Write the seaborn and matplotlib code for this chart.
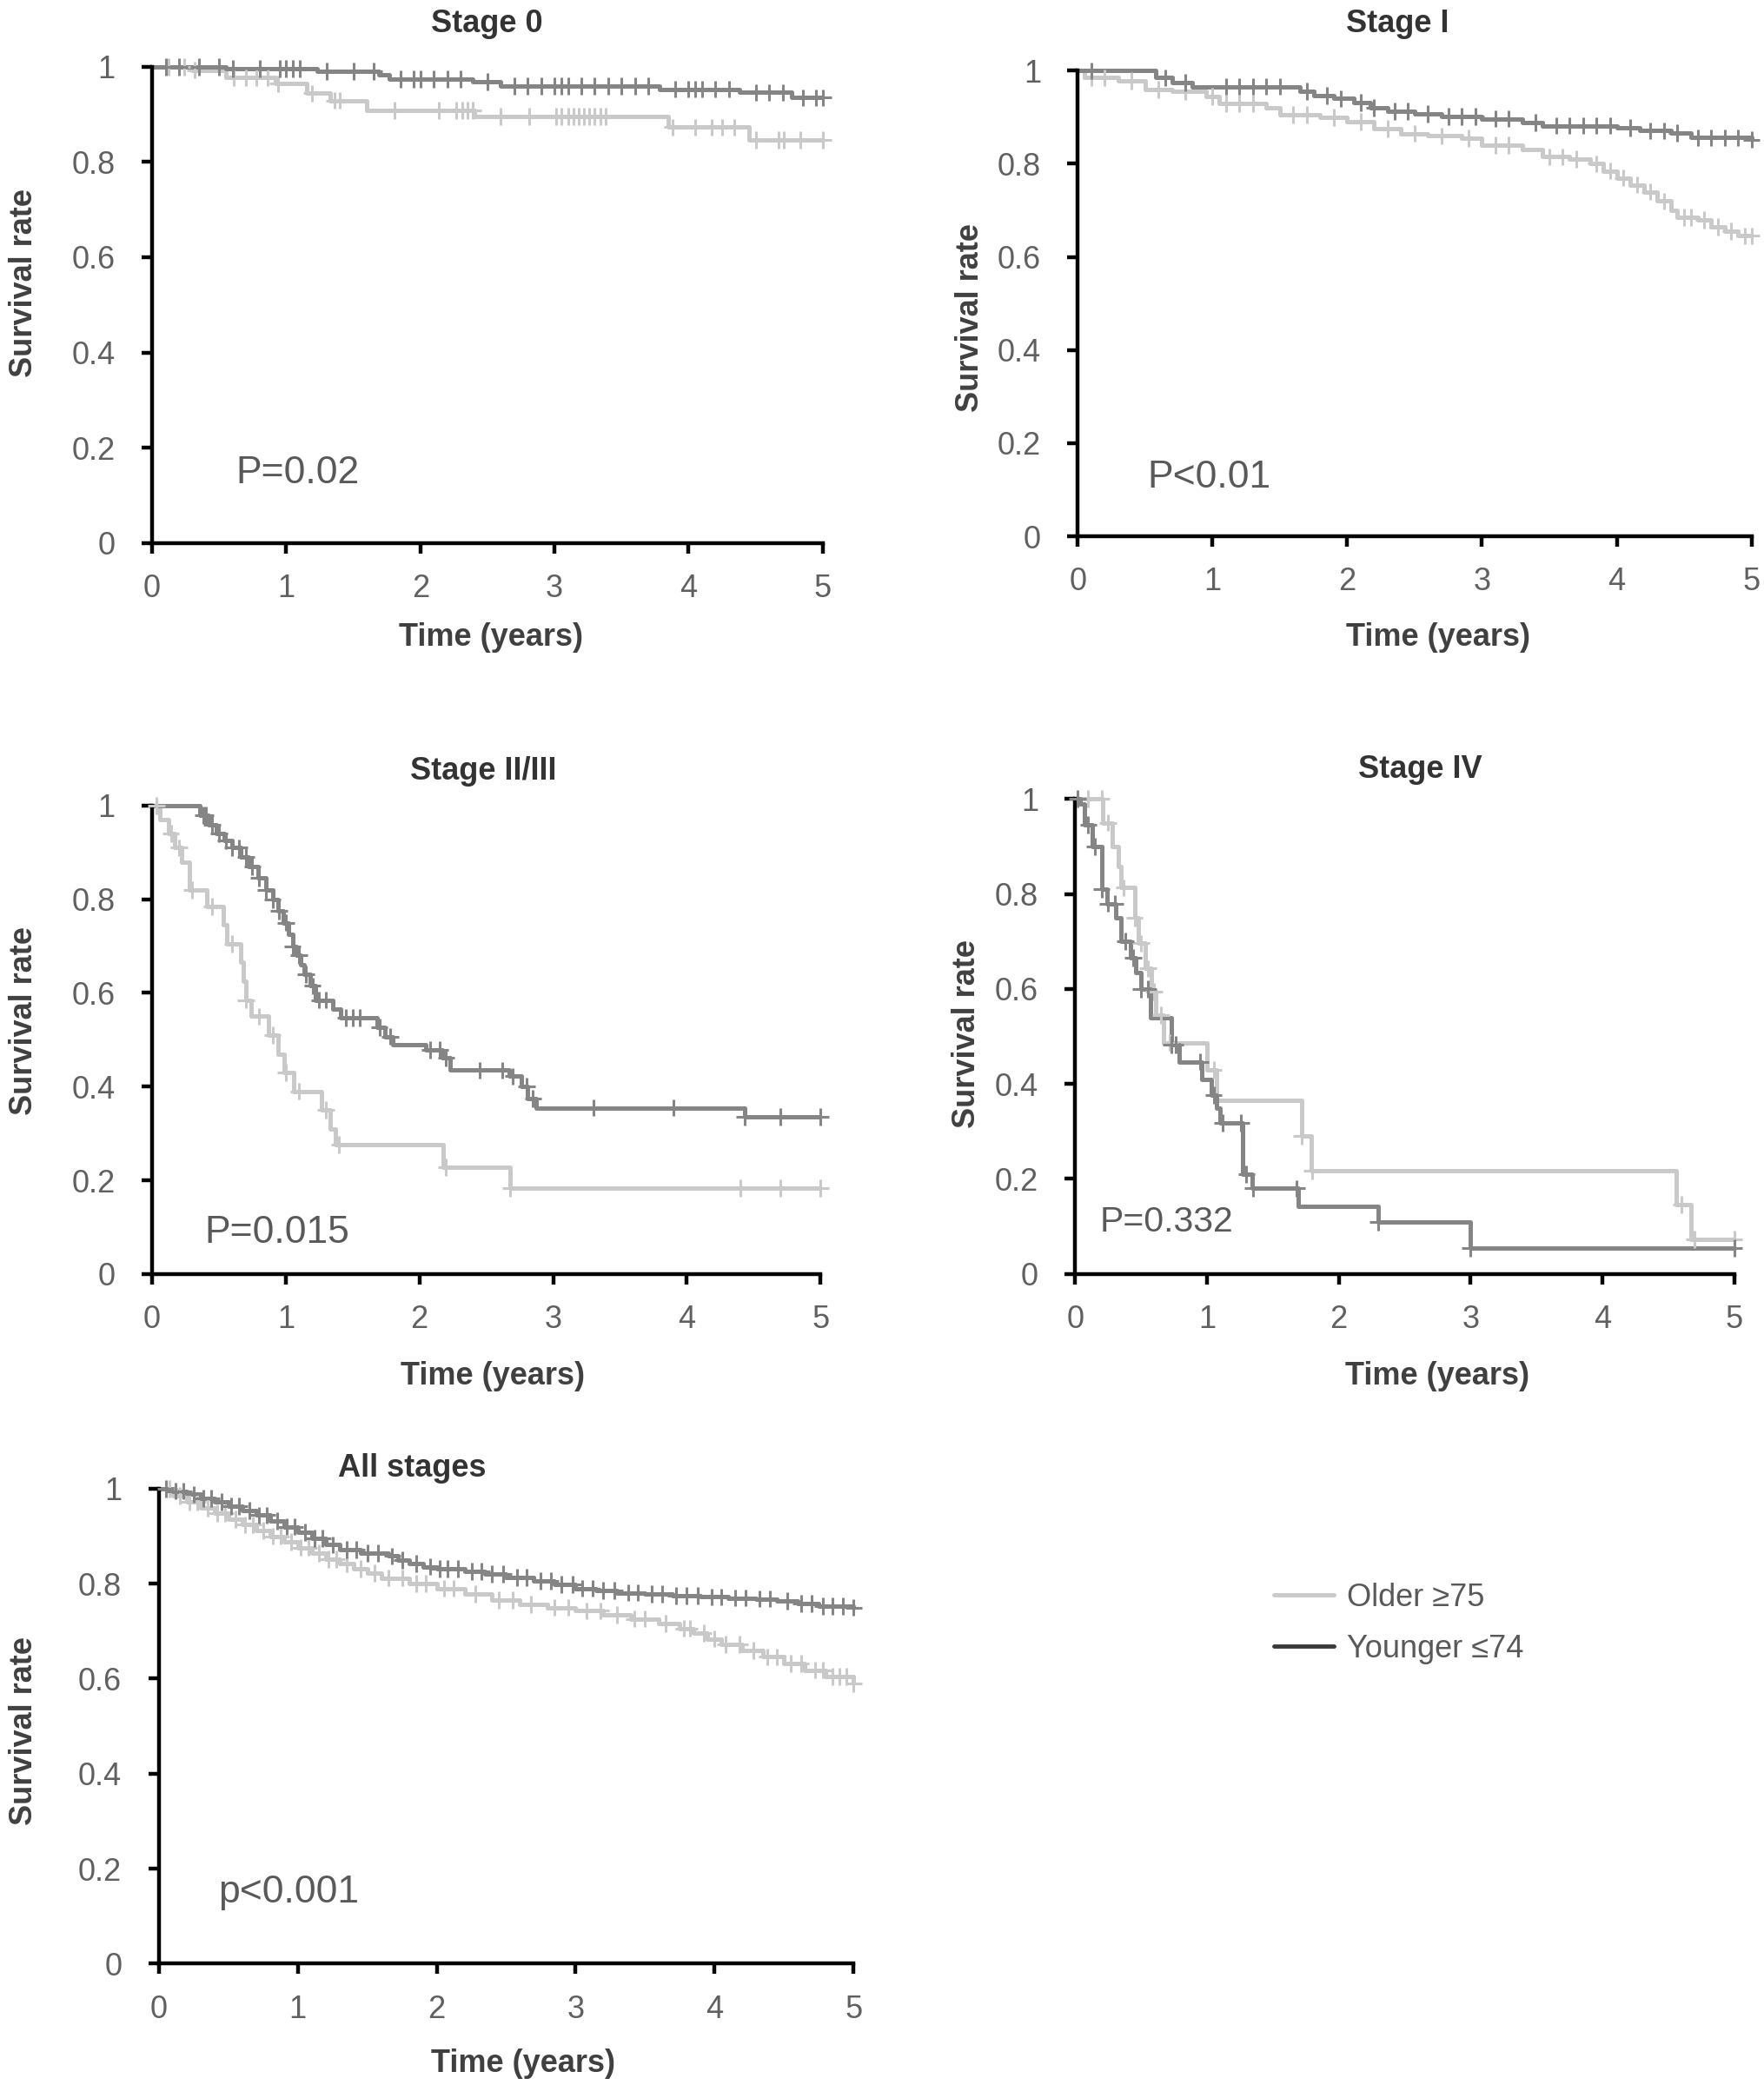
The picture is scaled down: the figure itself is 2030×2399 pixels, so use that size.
import numpy as np
import pandas as pd
import seaborn as sns
import matplotlib.pyplot as plt
from matplotlib.lines import Line2D

# Kaplan-Meier curves: step times (years) and survival
# Stage 0
s0_old_t = [0, 0.3, 0.55, 0.92, 1.15, 1.33, 1.6, 2.4, 3.85, 4.45, 5.0]
s0_old_s = [1.0, 0.993, 0.977, 0.964, 0.944, 0.929, 0.908, 0.895, 0.873, 0.846, 0.846]
s0_old_c = [0.12, 0.24, 0.32, 0.61, 0.70, 0.78, 0.86, 0.94, 1.19, 1.36, 1.40, 1.81, 2.14, 2.27, 2.31,
            2.35, 2.39, 2.6, 2.81, 3.01, 3.05, 3.10, 3.14, 3.18, 3.22, 3.26, 3.30, 3.34, 3.38, 3.88,
            4.05, 4.17, 4.25, 4.34, 4.50, 4.67, 4.71, 4.83, 5.0]
s0_young_t = [0, 0.55, 1.23, 1.69, 1.77, 2.39, 2.6, 3.78, 4.38, 4.77, 5.0]
s0_young_s = [1.0, 0.996, 0.991, 0.983, 0.974, 0.969, 0.96, 0.953, 0.946, 0.935, 0.935]
s0_young_c = [0.1, 0.2, 0.35, 0.5, 0.6, 0.8, 0.95, 1.0, 1.05, 1.1, 1.3, 1.5, 1.65, 1.85, 1.95, 2.0,
              2.1, 2.2, 2.3, 2.5, 2.7, 2.8, 2.9, 3.0, 3.05, 3.1, 3.2, 3.3, 3.4, 3.5, 3.6, 3.7, 3.9,
              4.0, 4.05, 4.1, 4.2, 4.3, 4.5, 4.6, 4.7, 4.85, 4.95, 5.0]

# Stage I
s1_old_t = [0, 0.05, 0.3, 0.5, 0.7, 0.95, 1.05, 1.4, 1.5, 1.8, 2.0, 2.2, 2.4, 2.6, 2.85, 3.0,
            3.3, 3.45, 3.65, 3.8, 3.9, 4.0, 4.1, 4.2, 4.3, 4.4, 4.45, 4.6, 4.7, 4.8, 4.9, 5.0]
s1_old_s = [1.0, 0.985, 0.978, 0.96, 0.955, 0.945, 0.93, 0.92, 0.905, 0.9, 0.89, 0.875, 0.865,
            0.86, 0.855, 0.84, 0.83, 0.815, 0.81, 0.8, 0.785, 0.77, 0.755, 0.74, 0.72, 0.7, 0.685,
            0.68, 0.665, 0.655, 0.645, 0.645]
s1_old_c = [0.1, 0.2, 0.4, 0.6, 0.8, 1.0, 1.1, 1.2, 1.3, 1.6, 1.7, 1.9, 2.1, 2.3, 2.5, 2.7, 2.9,
            3.1, 3.2, 3.5, 3.6, 3.7, 3.85, 3.95, 4.05, 4.15, 4.25, 4.35, 4.5, 4.55, 4.65, 4.75,
            4.85, 4.95, 5.0]
s1_young_t = [0, 0.58, 0.7, 0.85, 1.65, 1.75, 1.9, 2.05, 2.17, 2.3, 2.5, 2.7, 3.0, 3.3, 3.45,
              4.0, 4.17, 4.4, 4.55, 5.0]
s1_young_s = [1.0, 0.985, 0.975, 0.966, 0.956, 0.947, 0.94, 0.932, 0.92, 0.913, 0.907, 0.902,
              0.897, 0.889, 0.882, 0.877, 0.871, 0.866, 0.856, 0.852]
s1_young_c = [0.1, 0.65, 0.8, 1.1, 1.2, 1.3, 1.4, 1.5, 1.7, 1.85, 1.95, 2.1, 2.2, 2.35, 2.45, 2.6,
              2.75, 2.85, 2.95, 3.1, 3.2, 3.4, 3.55, 3.65, 3.75, 3.85, 3.95, 4.1, 4.25, 4.35, 4.45,
              4.6, 4.7, 4.8, 4.9, 5.0]

# Stage II/III
s23_old_t = [0, 0.06, 0.12, 0.17, 0.22, 0.28, 0.41, 0.53, 0.56, 0.66, 0.68, 0.7, 0.74, 0.87,
             0.94, 0.99, 1.06, 1.27, 1.33, 1.37, 2.18, 2.68, 5.0]
s23_old_s = [1.0, 0.97, 0.94, 0.91, 0.88, 0.82, 0.785, 0.745, 0.705, 0.665, 0.625, 0.585, 0.55,
             0.51, 0.47, 0.43, 0.39, 0.35, 0.31, 0.276, 0.228, 0.183, 0.183]
s23_old_c = [0.03, 0.14, 0.2, 0.3, 0.45, 0.6, 0.7, 0.8, 0.9, 1.0, 1.1, 1.3, 1.4, 2.2, 2.68, 4.4,
             4.7, 5.0]
s23_young_t = [0, 0.36, 0.42, 0.48, 0.54, 0.6, 0.66, 0.72, 0.79, 0.85, 0.9, 0.94, 0.98, 1.02,
               1.05, 1.08, 1.11, 1.14, 1.18, 1.22, 1.35, 1.41, 1.68, 1.74, 1.8, 2.05, 2.17, 2.23,
               2.67, 2.76, 2.81, 2.87, 4.43, 5.0]
s23_young_s = [1.0, 0.98, 0.96, 0.94, 0.925, 0.91, 0.89, 0.87, 0.845, 0.82, 0.8, 0.775, 0.75,
               0.725, 0.7, 0.68, 0.66, 0.64, 0.615, 0.585, 0.566, 0.547, 0.527, 0.507, 0.49,
               0.478, 0.462, 0.435, 0.422, 0.4, 0.375, 0.355, 0.336, 0.336]
s23_young_c = [0.38, 0.4, 0.45, 0.5, 0.55, 0.6, 0.65, 0.7, 0.75, 0.8, 0.85, 0.9, 0.95, 1.0, 1.05,
               1.1, 1.15, 1.2, 1.25, 1.3, 1.45, 1.5, 1.55, 1.7, 1.78, 2.08, 2.15, 2.2, 2.45, 2.62,
               2.7, 2.8, 2.85, 3.3, 3.9, 4.43, 4.7, 5.0]

# Stage IV
s4_old_t = [0, 0.21, 0.28, 0.33, 0.35, 0.45, 0.48, 0.53, 0.58, 0.61, 0.67, 1.0, 1.07, 1.72,
            1.79, 4.56, 4.67, 5.0]
s4_old_s = [1.0, 0.95, 0.9, 0.857, 0.813, 0.75, 0.696, 0.643, 0.594, 0.545, 0.487, 0.43, 0.365,
            0.291, 0.217, 0.146, 0.073, 0.073]
s4_old_c = [0.1, 0.2, 0.25, 0.37, 0.45, 0.5, 0.55, 0.6, 0.65, 0.72, 1.05, 1.72, 1.8, 4.6, 4.7,
            5.0]
s4_young_t = [0, 0.04, 0.07, 0.13, 0.2, 0.24, 0.31, 0.35, 0.42, 0.46, 0.5, 0.57, 0.73, 0.79,
              0.96, 1.03, 1.07, 1.1, 1.27, 1.34, 1.69, 2.3, 3.0, 5.0]
s4_young_s = [1.0, 0.99, 0.946, 0.9, 0.81, 0.78, 0.75, 0.7, 0.666, 0.635, 0.6, 0.54, 0.483,
              0.447, 0.41, 0.376, 0.35, 0.318, 0.21, 0.18, 0.142, 0.109, 0.055, 0.055]
s4_young_c = [0.02, 0.1, 0.15, 0.2, 0.25, 0.3, 0.38, 0.44, 0.5, 0.55, 0.73, 0.76, 0.95, 1.05,
              1.12, 1.26, 1.3, 1.35, 1.68, 2.3, 3.0, 5.0]

# All stages
sa_old_t = [0, 0.1, 0.2, 0.3, 0.4, 0.5, 0.6, 0.7, 0.8, 0.9, 1.0, 1.1, 1.2, 1.3, 1.4, 1.5, 1.6,
            1.8, 2.0, 2.2, 2.4, 2.6, 2.8, 3.0, 3.2, 3.4, 3.6, 3.75, 3.85, 3.95, 4.05, 4.2, 4.35,
            4.5, 4.65, 4.8, 5.0]
sa_old_s = [1.0, 0.985, 0.972, 0.96, 0.948, 0.936, 0.924, 0.912, 0.9, 0.888, 0.876, 0.864, 0.852,
            0.842, 0.832, 0.822, 0.812, 0.8, 0.79, 0.778, 0.766, 0.756, 0.75, 0.743, 0.735,
            0.726, 0.716, 0.706, 0.696, 0.684, 0.672, 0.66, 0.646, 0.632, 0.618, 0.604, 0.59]
sa_old_c = [0.08, 0.15, 0.22, 0.28, 0.35, 0.42, 0.48, 0.55, 0.62, 0.68, 0.75, 0.82, 0.88, 0.95,
            1.02, 1.08, 1.15, 1.22, 1.28, 1.35, 1.45, 1.55, 1.65, 1.75, 1.85, 1.92, 2.05, 2.12,
            2.28, 2.45, 2.55, 2.68, 2.85, 2.95, 3.08, 3.18, 3.3, 3.42, 3.5, 3.65, 3.78, 3.82,
            3.92, 4.0, 4.08, 4.18, 4.28, 4.38, 4.45, 4.55, 4.62, 4.72, 4.78, 4.85, 4.9, 4.95, 5.0]
sa_young_t = [0, 0.1, 0.2, 0.3, 0.4, 0.5, 0.6, 0.7, 0.8, 0.9, 1.0, 1.1, 1.2, 1.3, 1.45, 1.65,
              1.72, 1.8, 1.9, 2.0, 2.2, 2.35, 2.5, 2.7, 2.85, 3.0, 3.15, 3.3, 3.5, 3.7, 3.9, 4.1,
              4.3, 4.45, 4.6, 4.75, 5.0]
sa_young_s = [1.0, 0.995, 0.988, 0.98, 0.972, 0.963, 0.954, 0.944, 0.932, 0.92, 0.908, 0.895,
              0.882, 0.872, 0.864, 0.858, 0.85, 0.842, 0.836, 0.832, 0.826, 0.82, 0.813, 0.806,
              0.798, 0.79, 0.786, 0.781, 0.778, 0.775, 0.772, 0.77, 0.768, 0.764, 0.758, 0.753,
              0.75]
sa_young_c = [0.05, 0.12, 0.18, 0.25, 0.32, 0.38, 0.45, 0.52, 0.58, 0.65, 0.72, 0.78, 0.85, 0.92,
              0.98, 1.05, 1.12, 1.18, 1.25, 1.35, 1.42, 1.5, 1.58, 1.68, 1.75, 1.85, 1.95, 2.02,
              2.08, 2.15, 2.25, 2.32, 2.4, 2.48, 2.58, 2.65, 2.75, 2.82, 2.9, 2.98, 3.05, 3.12,
              3.2, 3.28, 3.38, 3.45, 3.55, 3.62, 3.72, 3.8, 3.88, 3.98, 4.05, 4.15, 4.22, 4.32,
              4.4, 4.52, 4.62, 4.7, 4.78, 4.85, 4.92, 5.0]

titles = ['Stage 0', 'Stage I', 'Stage II/III', 'Stage IV', 'All stages']
pvals = ['P=0.02', 'P<0.01', 'P=0.015', 'P=0.332', 'p<0.001']
groups = ['Older \u226575', 'Younger \u226474']
x_ticks = [0, 1, 2, 3, 4, 5]
y_ticks = [0, 0.2, 0.4, 0.6, 0.8, 1]
y_ticklabels = ['0', '0.2', '0.4', '0.6', '0.8', '1']

OLD_C = '#c9c9c9'
YOUNG_C = '#858585'
palette = {groups[0]: OLD_C, groups[1]: YOUNG_C}

sns.set_style('ticks')
plt.rcParams['font.family'] = ['Liberation Sans', 'DejaVu Sans']
TICK_FONT = ['Liberation Sans Narrow', 'Liberation Sans', 'DejaVu Sans']

fig = plt.figure(figsize=(20.31, 23.99), dpi=100)

# axes rectangles and text placement (axes fractions) per panel
layout = [
    dict(rect=[0.0862, 0.7396, 0.380, 0.2284], title=(0.499, 1.09), ylab=(-0.191, 0.546),
         xlab=(0.505, -0.199), p=(0.125, 0.146), psize=32),
    dict(rect=[0.6107, 0.7428, 0.3817, 0.2233], title=(0.475, 1.10), ylab=(-0.160, 0.47),
         xlab=(0.535, -0.218), p=(0.103, 0.126), psize=32),
    dict(rect=[0.0862, 0.389, 0.3787, 0.2246], title=(0.495, 1.074), ylab=(-0.192, 0.541),
         xlab=(0.509, -0.219), p=(0.078, 0.088), psize=32),
    dict(rect=[0.6092, 0.389, 0.3734, 0.2278], title=(0.524, 1.062), ylab=(-0.164, 0.506),
         xlab=(0.549, -0.216), p=(0.038, 0.11), psize=29.5),
    dict(rect=[0.0899, 0.0582, 0.3938, 0.2278], title=(0.365, 1.042), ylab=(-0.194, 0.49),
         xlab=(0.524, -0.211), p=(0.086, 0.149), psize=32),
]

curves = [
    (s0_old_t, s0_old_s, s0_old_c, s0_young_t, s0_young_s, s0_young_c),
    (s1_old_t, s1_old_s, s1_old_c, s1_young_t, s1_young_s, s1_young_c),
    (s23_old_t, s23_old_s, s23_old_c, s23_young_t, s23_young_s, s23_young_c),
    (s4_old_t, s4_old_s, s4_old_c, s4_young_t, s4_young_s, s4_young_c),
    (sa_old_t, sa_old_s, sa_old_c, sa_young_t, sa_young_s, sa_young_c),
]


def step_value(t, s, c):
    # survival on the step curve at each censor time
    idx = np.searchsorted(np.array(t), np.array(c), side='right') - 1
    return np.array(s)[idx]


for i, (lay, cur) in enumerate(zip(layout, curves)):
    ot, os_, oc, yt, ys, yc = cur
    ax = fig.add_axes(lay['rect'])

    df_line = pd.concat([
        pd.DataFrame({'time': ot, 'surv': os_, 'group': groups[0]}),
        pd.DataFrame({'time': yt, 'surv': ys, 'group': groups[1]}),
    ])
    df_cens = pd.concat([
        pd.DataFrame({'time': oc, 'surv': step_value(ot, os_, oc), 'group': groups[0]}),
        pd.DataFrame({'time': yc, 'surv': step_value(yt, ys, yc), 'group': groups[1]}),
    ])

    sns.lineplot(data=df_line, x='time', y='surv', hue='group', hue_order=groups,
                 palette=palette, estimator=None, drawstyle='steps-post', linewidth=3.6,
                 legend=False, ax=ax, clip_on=False, zorder=2)
    sns.scatterplot(data=df_cens, x='time', y='surv', hue='group', hue_order=groups,
                    palette=palette, marker='+', s=200, linewidth=2.2, legend=False, ax=ax,
                    clip_on=False, zorder=3)

    ax.set_xlim(0, 5)
    ax.set_ylim(0, 1)
    sns.despine(ax=ax)
    for sp in ['left', 'bottom']:
        ax.spines[sp].set_linewidth(3.2)
        ax.spines[sp].set_color('black')
    ax.set_xticks(x_ticks)
    ax.set_yticks(y_ticks)
    ax.set_yticklabels(y_ticklabels)
    ax.tick_params(axis='both', direction='out', length=8.5, width=3.2, color='black',
                   labelsize=26, labelcolor='#606060')
    ax.tick_params(axis='x', pad=17)
    ax.tick_params(axis='y', pad=22)
    for lab in ax.get_xticklabels() + ax.get_yticklabels():
        lab.set_fontfamily(TICK_FONT)

    ax.set_xlabel('Time (years)', fontsize=26, fontweight='bold', color='#404040')
    ax.set_ylabel('Survival rate', fontsize=26, fontweight='bold', color='#404040')
    ax.xaxis.set_label_coords(*lay['xlab'])
    ax.yaxis.set_label_coords(*lay['ylab'])
    ax.xaxis.label.set_va('center')
    ax.yaxis.label.set_va('center')

    ax.text(lay['title'][0], lay['title'][1], titles[i], transform=ax.transAxes,
            ha='center', va='center', fontsize=26, fontweight='bold', color='#333333')
    ax.text(lay['p'][0], lay['p'][1], pvals[i], transform=ax.transAxes, ha='left',
            va='center', fontsize=lay['psize'], color='#595959')

handles = [Line2D([], [], color=OLD_C, lw=3.5), Line2D([], [], color='#3a3a3a', lw=3.5)]
fig.legend(handles, groups, loc='center left', bbox_to_anchor=(0.722, 0.2214), frameon=False,
           fontsize=26, labelcolor='#595959', handlelength=1.9, handletextpad=0.42,
           labelspacing=0.67, borderpad=0, borderaxespad=0)

fig.savefig('out.png', dpi=100, facecolor='white')
